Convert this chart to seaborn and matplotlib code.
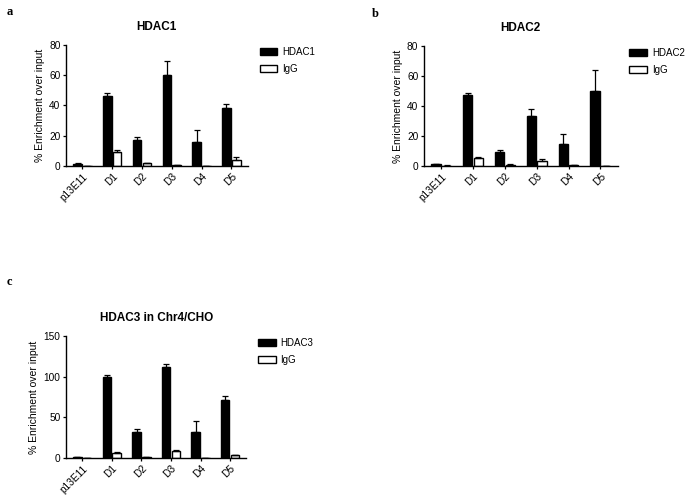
import numpy as np
import pandas as pd
import matplotlib
matplotlib.use("Agg")
import matplotlib.pyplot as plt
import seaborn as sns

# ---DATA---
sites = ['p13E11', 'D1', 'D2', 'D3', 'D4', 'D5']

hdac1_mean = [1.5, 46.3, 17.2, 60.4, 15.9, 38.3]
hdac1_err = [0.3, 1.7, 2.2, 8.8, 8.1, 2.9]
igg_a_mean = [0.1, 9.2, 1.8, 0.3, 0.1, 3.7]
igg_a_err = [0.1, 1.1, 0.3, 0.1, 0.0, 2.2]

hdac2_mean = [1.2, 47.1, 9.5, 33.3, 14.8, 49.8]
hdac2_err = [0.2, 1.8, 1.3, 4.8, 6.6, 13.9]
igg_b_mean = [0.2, 5.1, 0.8, 3.1, 0.3, 0.1]
igg_b_err = [0.1, 0.6, 0.1, 1.7, 0.1, 0.0]

hdac3_mean = [0.8, 99.2, 32.2, 112.4, 31.4, 71.1]
hdac3_err = [0.3, 2.5, 3.3, 3.7, 14.5, 4.9]
igg_c_mean = [0.2, 6.6, 0.8, 7.9, 0.3, 3.3]
igg_c_err = [0.1, 0.8, 0.1, 2.0, 0.1, 0.8]

sns.set_style('ticks')
plt.rcParams['font.family'] = ['Liberation Sans', 'DejaVu Sans']
for k in ['text.color', 'axes.labelcolor', 'xtick.color', 'ytick.color',
          'axes.edgecolor']:
    plt.rcParams[k] = 'black'


# draw one GraphPad-style grouped bar panel
def panel(ax, name, mean, err, igg_mean, igg_err, title, ymax, ystep, leg_x):
    df = pd.DataFrame({
        'site': sites * 2,
        'value': mean + igg_mean,
        'ab': [name] * len(sites) + ['IgG'] * len(sites),
    })
    sns.barplot(data=df, x='site', y='value', hue='ab', order=sites,
                hue_order=[name, 'IgG'], palette=['black', 'white'],
                edgecolor='black', linewidth=1, width=0.66, gap=0.12,
                errorbar=None, ax=ax)
    for cont, errs in zip(ax.containers, [err, igg_err]):
        for bar, e in zip(cont, errs):
            xc = bar.get_x() + bar.get_width() / 2
            ax.errorbar(xc, bar.get_height(), yerr=[[0], [e]], fmt='none',
                        ecolor='black', elinewidth=0.9, capsize=2.2,
                        capthick=0.9)
    ax.set_ylim(0, ymax)
    ax.set_yticks(np.arange(0, ymax + 1, ystep))
    ax.set_xlim(-0.55, 5.55)
    ax.set_xlabel('')
    ax.set_ylabel('% Enrichment over input', fontsize=7.5, labelpad=3)
    ax.set_title(title, fontsize=8.5, fontweight='bold', pad=11)
    ax.tick_params(axis='both', labelsize=7.3, length=2.5, width=0.9, pad=1.5)
    plt.setp(ax.get_xticklabels(), rotation=45, ha='right',
             rotation_mode='anchor')
    for s in ['left', 'bottom']:
        ax.spines[s].set_linewidth(1)
    sns.despine(ax=ax)
    sns.move_legend(ax, 'upper left', bbox_to_anchor=(leg_x, 0.985),
                    frameon=False, title=None, fontsize=7,
                    borderaxespad=0, borderpad=0,
                    handlelength=1.8, handleheight=0.8, handletextpad=0.5,
                    labelspacing=0.7)


fig = plt.figure(figsize=(6.88, 4.95), dpi=100)
ax_a = fig.add_axes([0.096, 0.665, 0.264, 0.244])
ax_b = fig.add_axes([0.616, 0.665, 0.282, 0.242])
ax_c = fig.add_axes([0.096, 0.075, 0.262, 0.246])

panel(ax_a, 'HDAC1', hdac1_mean, hdac1_err, igg_a_mean, igg_a_err,
      'HDAC1', 80, 20, 1.066)
panel(ax_b, 'HDAC2', hdac2_mean, hdac2_err, igg_b_mean, igg_b_err,
      'HDAC2', 80, 20, 1.06)
panel(ax_c, 'HDAC3', hdac3_mean, hdac3_err, igg_c_mean, igg_c_err,
      'HDAC3 in Chr4/CHO', 150, 50, 1.066)

for x, y, t in [(0.010, 0.970, 'a'), (0.541, 0.966, 'b'), (0.010, 0.424, 'c')]:
    fig.text(x, y, t, family='Liberation Serif', fontweight='bold',
             fontsize=9)

plt.savefig('out.png', dpi=100)
